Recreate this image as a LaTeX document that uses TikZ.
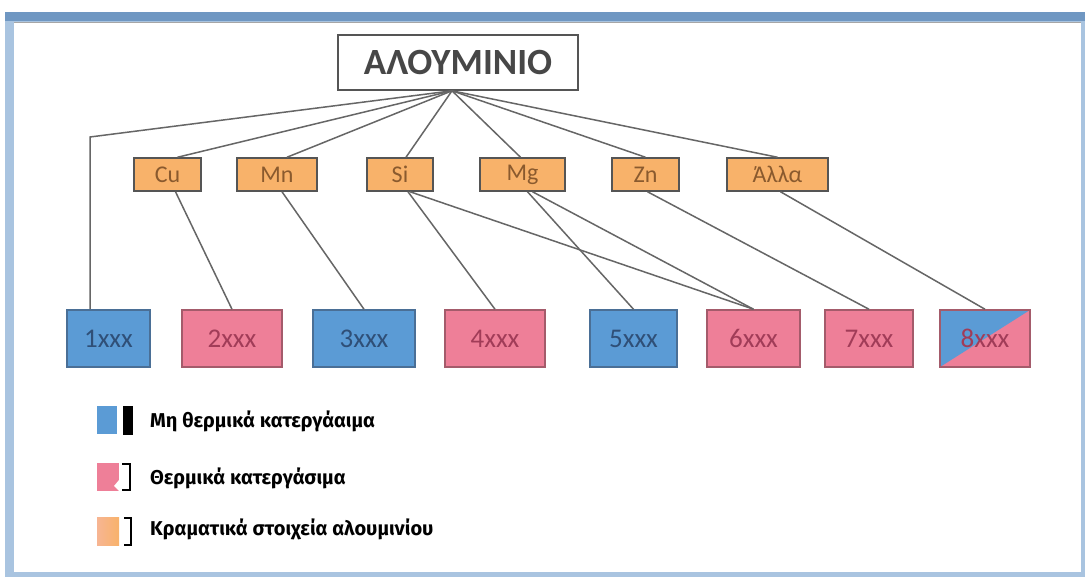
\documentclass[tikz,border=0pt]{standalone}
\usepackage{fontspec}
\setmainfont{Carlito}
\newfontfamily\legendfont{Fira Sans}
\definecolor{framefill}{HTML}{A9C4E0}
\definecolor{framedark}{HTML}{6F97C2}
\definecolor{orangefill}{HTML}{F8B26A}
\definecolor{orangetext}{HTML}{8A5A2E}
\definecolor{bluefill}{HTML}{5B9BD5}
\definecolor{blueborder}{HTML}{4A6F96}
\definecolor{bluetext}{HTML}{2F4F77}
\definecolor{pinkfill}{HTML}{EE7F98}
\definecolor{pinkborder}{HTML}{A45B6B}
\definecolor{pinktext}{HTML}{A13C58}
\definecolor{linecol}{HTML}{666666}
\definecolor{boxborder}{HTML}{555555}
\tikzset{
  rootbox/.style={draw=boxborder, line width=1.6pt, fill=white, minimum width=240pt, minimum height=55pt, inner sep=0pt, text=black!72, font=\bfseries\fontsize{37}{40}\selectfont},
  elembox/.style={draw=boxborder, line width=1.5pt, fill=orangefill, minimum height=33pt, inner sep=0pt, text=orangetext, font=\fontsize{24}{26}\selectfont},
  bluebox/.style={draw=blueborder, line width=1.5pt, fill=bluefill, minimum height=57pt, inner sep=0pt, text=bluetext, font=\fontsize{27}{30}\selectfont},
  pinkbox/.style={draw=pinkborder, line width=1.5pt, fill=pinkfill, minimum height=57pt, inner sep=0pt, text=pinktext, font=\fontsize{27}{30}\selectfont},
  conn/.style={draw=linecol, line width=1.5pt},
  legsq/.style={minimum width=22pt, minimum height=28pt, inner sep=0pt},
  legtext/.style={anchor=west, inner sep=0pt, font=\legendfont\bfseries\fontsize{20}{24}\selectfont},
  brack/.style={draw=black, line width=2pt}
}
\begin{document}
\begin{tikzpicture}[x=1pt,y=-1pt]
\useasboundingbox (0,0) rectangle (1085,577);
% frame
\fill[white] (0,0) rectangle (1085,577);
\fill[framefill] (5,12) rectangle (1085,577);
\fill[framedark] (5,12) rectangle (1085,21);
\fill[white] (14,23) rectangle (1081,572);
\draw[gray!70, line width=0.8pt] (14,22.5) -- (1081,22.5);

% root
\node[rootbox] (al) at (458,62.5) {ΑΛΟΥΜΙΝΙΟ};

% alloying elements
\node[elembox, minimum width=67pt] (cu) at (167.5,174.5) {Cu};
\node[elembox, minimum width=80pt] (mn) at (277,174.5) {Mn};
\node[elembox, minimum width=66pt] (si) at (400,174.5) {Si};
\node[elembox, minimum width=85pt] (mg) at (522.5,174.5) {Mg};
\node[elembox, minimum width=67pt] (zn) at (645.5,174.5) {Zn};
\node[elembox, minimum width=101pt] (alla) at (777.5,174.5) {Άλλα};

% series
\node[bluebox, minimum width=83pt] (b1) at (108.5,338.5) {1xxx};
\node[pinkbox, minimum width=100pt] (b2) at (232,338.5) {2xxx};
\node[bluebox, minimum width=102pt] (b3) at (364,338.5) {3xxx};
\node[pinkbox, minimum width=100pt] (b4) at (495,338.5) {4xxx};
\node[bluebox, minimum width=87pt] (b5) at (633.5,338.5) {5xxx};
\node[pinkbox, minimum width=93pt] (b6) at (753.5,338.5) {6xxx};
\node[pinkbox, minimum width=88pt] (b7) at (869,338.5) {7xxx};
\node[pinkbox, minimum width=90pt, path picture={\fill[bluefill] (path picture bounding box.south west) -- (path picture bounding box.north west) -- (path picture bounding box.north east) -- cycle;}] (b8) at (985,338.5) {8xxx};

% connectors from root
\coordinate (rootpt) at ([xshift=-6pt]al.south);
\coordinate (corner) at (90,137);
\draw[conn] (rootpt) -- (corner) -- ([xshift=-18.5pt]b1.north);
\draw[conn] (rootpt) -- ([xshift=10pt]cu.north);
\draw[conn] (rootpt) -- ([xshift=10pt]mn.north);
\draw[conn] (rootpt) -- ([xshift=6pt]si.north);
\draw[conn] (rootpt) -- ([xshift=-2pt]mg.north);
\draw[conn] (rootpt) -- (zn.north);
\draw[conn] (rootpt) -- (alla.north);

% connectors from elements to series
\draw[conn] ([xshift=8pt]cu.south) -- (b2.north);
\draw[conn] ([xshift=5pt]mn.south) -- (b3.north);
\draw[conn] ([xshift=8pt]si.south) -- (b4.north);
\draw[conn] ([xshift=10pt]si.south) -- (b6.north);
\draw[conn] ([xshift=5pt]mg.south) -- (b5.north);
\draw[conn] ([xshift=10pt]mg.south) -- (b6.north);
\draw[conn] ([xshift=2pt]zn.south) -- (b7.north);
\draw[conn] ([xshift=3pt]alla.south) -- (b8.north);

% legend
\node[legsq, fill=bluefill, minimum width=20pt] (lg1) at (107,420) {};
\fill[black] (123,406) rectangle (133,435);
\node[legtext] (lt1) at (150,421) {Μη θερμικά κατεργάαιμα};

\node[legsq, fill=pinkfill] (lg2) at (108,477) {};
\fill[white] (114,486) -- (119,480) -- (119,491) -- cycle;
\draw[brack] (122,464) -- (130,464) -- (130,490) -- (122,490);
\node[legtext] (lt2) at (150,478) {Θερμικά κατεργάσιμα};

\node[legsq, left color=orangefill!70!pinkfill!80!white, right color=orangefill] (lg3) at (108,531) {};
\draw[brack] (124,518) -- (131,518) -- (131,545) -- (124,545);
\node[legtext] (lt3) at (150,529) {Κραματικά στοιχεία αλουμινίου};
\end{tikzpicture}
\end{document}
